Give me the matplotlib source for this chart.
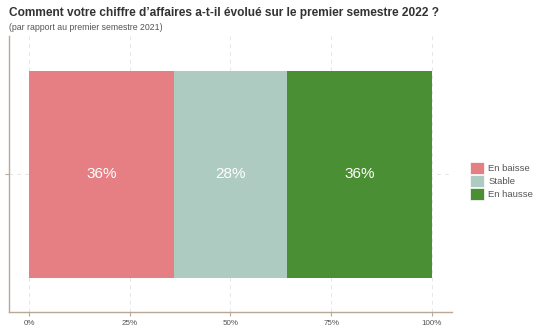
import matplotlib.pyplot as plt
import matplotlib.patches as mpatches

plt.rcParams["font.family"] = ["Liberation Sans", "DejaVu Sans"]

categories = ["En baisse", "Stable", "En hausse"]
shares = [0.36, 0.28, 0.36]
colors = ["#E57F84", "#AECBC2", "#4A8F33"]
xticks = [0, 0.25, 0.5, 0.75, 1.0]
xtick_labels = ["0%", "25%", "50%", "75%", "100%"]

fig = plt.figure(figsize=(5.33, 3.31), dpi=100)
ax = fig.add_axes([9 / 533, 1 - 312 / 331, 443 / 533, 276 / 331])

left = 0
for cat, val, col in zip(categories, shares, colors):
    ax.barh(0, val, left=left, height=0.9, color=col, zorder=2)
    ax.text(left + val / 2, 0, f"{val:.0%}", color="white", fontsize=11,
            ha="center", va="center", zorder=3)
    left += val

ax.set_xlim(-0.05, 1.05)
ax.set_ylim(-0.6, 0.6)
ax.set_xticks(xticks)
ax.set_xticklabels(xtick_labels, fontsize=5.8, color="#555555")
ax.set_yticks([0])
ax.set_yticklabels([""])
ax.tick_params(axis="both", length=3, color="#B8A89A", pad=3)
ax.grid(True, linestyle=(0, (4, 4)), color="#E6E6E6", linewidth=0.7, zorder=0)

for side in ["top", "right"]:
    ax.spines[side].set_visible(False)
for side in ["left", "bottom"]:
    ax.spines[side].set_color("#B8A89A")
    ax.spines[side].set_linewidth(1)

fig.text(9 / 533, 1 - 13 / 331, "Comment votre chiffre d\u2019affaires a-t-il \u00e9volu\u00e9 sur le premier semestre 2022 ?",
         fontsize=8.6, fontweight="bold", color="#333333", va="center")
fig.text(9 / 533, 1 - 27 / 331, "(par rapport au premier semestre 2021)",
         fontsize=6.3, color="#555555", va="center")

handles = [mpatches.Patch(facecolor=c, edgecolor="white", linewidth=0.5, label=l)
           for c, l in zip(colors, categories)]
fig.legend(handles=handles, loc="center left", bbox_to_anchor=(470 / 533, 1 - 181 / 331),
           frameon=False, fontsize=6.8, handlelength=1.45, handleheight=1.6,
           handletextpad=0.5, labelspacing=0.08, borderaxespad=0, borderpad=0,
           labelcolor="#555555")

plt.savefig("out.png", dpi=100)
